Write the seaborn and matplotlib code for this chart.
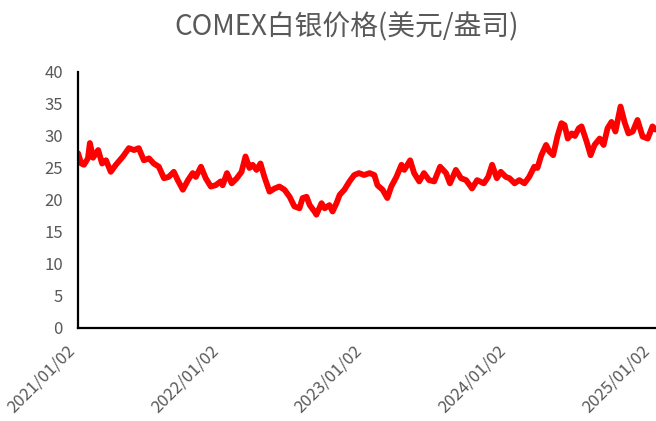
import pandas as pd
import matplotlib
matplotlib.use("Agg")
import matplotlib.pyplot as plt
import seaborn as sns

# COMEX silver price (USD/oz)
dates = [
    "2021-01-02", "2021-01-10", "2021-01-17", "2021-01-27", "2021-02-01", "2021-02-09",
    "2021-02-22", "2021-03-04", "2021-03-14", "2021-03-26", "2021-04-08", "2021-04-26",
    "2021-05-11", "2021-05-24", "2021-06-05", "2021-06-18", "2021-07-01", "2021-07-13",
    "2021-07-26", "2021-08-08", "2021-08-20", "2021-09-02", "2021-09-12", "2021-09-25",
    "2021-10-08", "2021-10-20", "2021-10-28", "2021-11-10", "2021-11-22", "2021-12-05",
    "2021-12-17", "2021-12-30", "2022-01-04", "2022-01-15", "2022-01-27", "2022-02-09",
    "2022-02-21", "2022-03-03", "2022-03-13", "2022-03-21", "2022-03-31", "2022-04-10",
    "2022-04-20", "2022-05-03", "2022-05-16", "2022-05-28", "2022-06-10", "2022-06-23",
    "2022-07-05", "2022-07-18", "2022-07-26", "2022-08-05", "2022-08-13", "2022-08-25",
    "2022-08-30", "2022-09-12", "2022-09-20", "2022-10-02", "2022-10-10", "2022-10-20",
    "2022-10-28", "2022-11-09", "2022-11-22", "2022-12-04", "2022-12-16", "2022-12-29",
    "2023-01-12", "2023-01-24", "2023-02-01", "2023-02-14", "2023-02-26", "2023-03-08",
    "2023-03-21", "2023-04-03", "2023-04-10", "2023-04-25", "2023-05-05", "2023-05-18",
    "2023-05-30", "2023-06-12", "2023-06-25", "2023-07-10", "2023-07-25", "2023-08-04",
    "2023-08-19", "2023-09-01", "2023-09-14", "2023-09-29", "2023-10-12", "2023-10-29",
    "2023-11-09", "2023-11-19", "2023-12-01", "2023-12-11", "2023-12-24", "2024-01-02",
    "2024-01-15", "2024-01-27", "2024-02-09", "2024-02-21", "2024-03-05", "2024-03-13",
    "2024-03-23", "2024-04-04", "2024-04-12", "2024-04-22", "2024-05-03", "2024-05-13",
    "2024-05-21", "2024-05-29", "2024-06-08", "2024-06-16", "2024-06-26", "2024-07-03",
    "2024-07-16", "2024-07-26", "2024-08-05", "2024-08-18", "2024-08-28", "2024-09-07",
    "2024-09-17", "2024-09-27", "2024-10-10", "2024-10-20", "2024-10-30", "2024-11-10",
    "2024-11-22", "2024-12-05", "2024-12-18", "2024-12-30", "2025-01-07",
]
prices = [
    27.3, 25.7, 25.5, 26.5, 28.9, 26.6,
    27.8, 25.7, 26.2, 24.4, 25.5, 26.8,
    28.1, 27.8, 28.1, 26.2, 26.5, 25.7,
    25.2, 23.4, 23.6, 24.4, 23.1, 21.6,
    23.1, 24.2, 23.6, 25.2, 23.4, 22.1,
    22.3, 22.9, 22.3, 24.2, 22.6, 23.4,
    24.4, 26.8, 25.0, 25.5, 24.7, 25.7,
    23.6, 21.3, 21.8, 22.1, 21.6, 20.5,
    19.0, 18.7, 20.3, 20.5, 19.2, 18.2,
    17.7, 19.5, 18.7, 19.2, 18.2, 19.5,
    20.8, 21.6, 22.9, 23.9, 24.2, 23.9,
    24.2, 23.9, 22.3, 21.6, 20.3, 22.1,
    23.6, 25.5, 24.7, 26.2, 24.2, 22.9,
    24.2, 23.1, 22.9, 25.2, 24.2, 22.6,
    24.7, 23.4, 23.1, 21.8, 23.1, 22.6,
    23.6, 25.5, 23.4, 24.4, 23.6, 23.4,
    22.6, 23.1, 22.6, 23.6, 25.2, 25.0,
    27.0, 28.6, 27.6, 27.0, 30.0, 32.0,
    31.7, 29.6, 30.4, 30.0, 31.2, 31.5,
    29.1, 27.0, 28.6, 29.6, 28.6, 31.2,
    32.2, 30.7, 34.6, 32.2, 30.4, 30.7,
    32.5, 29.9, 29.6, 31.5, 31.0,
]
tick_labels = ["2021/01/02", "2022/01/02", "2023/01/02", "2024/01/02", "2025/01/02"]

df = pd.DataFrame({"date": pd.to_datetime(dates), "price": prices})

sns.set_style("white")
plt.rcParams["font.family"] = ["Noto Sans CJK SC", "DejaVu Sans"]

fig = plt.figure(figsize=(6.56, 4.21), dpi=100)
ax = fig.add_axes([0.119, 0.221, 0.881, 0.608])

sns.lineplot(data=df, x="date", y="price", color="#ff0000", linewidth=4.2, ax=ax)

ax.set_ylim(0, 40)
ax.set_yticks(range(0, 41, 5))
ax.set_xlim(pd.Timestamp("2021-01-02"), pd.Timestamp("2025-01-08"))
ax.set_xticks(pd.to_datetime(tick_labels))
# anchor at the bottom-right corner so each slanted label stays left of its date
ax.set_xticklabels(tick_labels, rotation=45, ha="right", va="bottom", rotation_mode="anchor")
ax.set_xlabel("")
ax.set_ylabel("")

for side in ["top", "right"]:
    ax.spines[side].set_visible(False)
for side in ["left", "bottom"]:
    ax.spines[side].set_color("black")
    ax.spines[side].set_linewidth(1.6)

ax.tick_params(axis="y", length=5, width=1.2, color="black", labelsize=12,
               labelcolor="#595959", pad=6)
ax.tick_params(axis="x", length=0, labelsize=12, labelcolor="#595959", pad=19)

fig.text(0.528, 0.936, "COMEX白银价格(美元/盎司)", ha="center", va="center",
         fontsize=20, color="#595959")

fig.savefig("out.png", dpi=100)
